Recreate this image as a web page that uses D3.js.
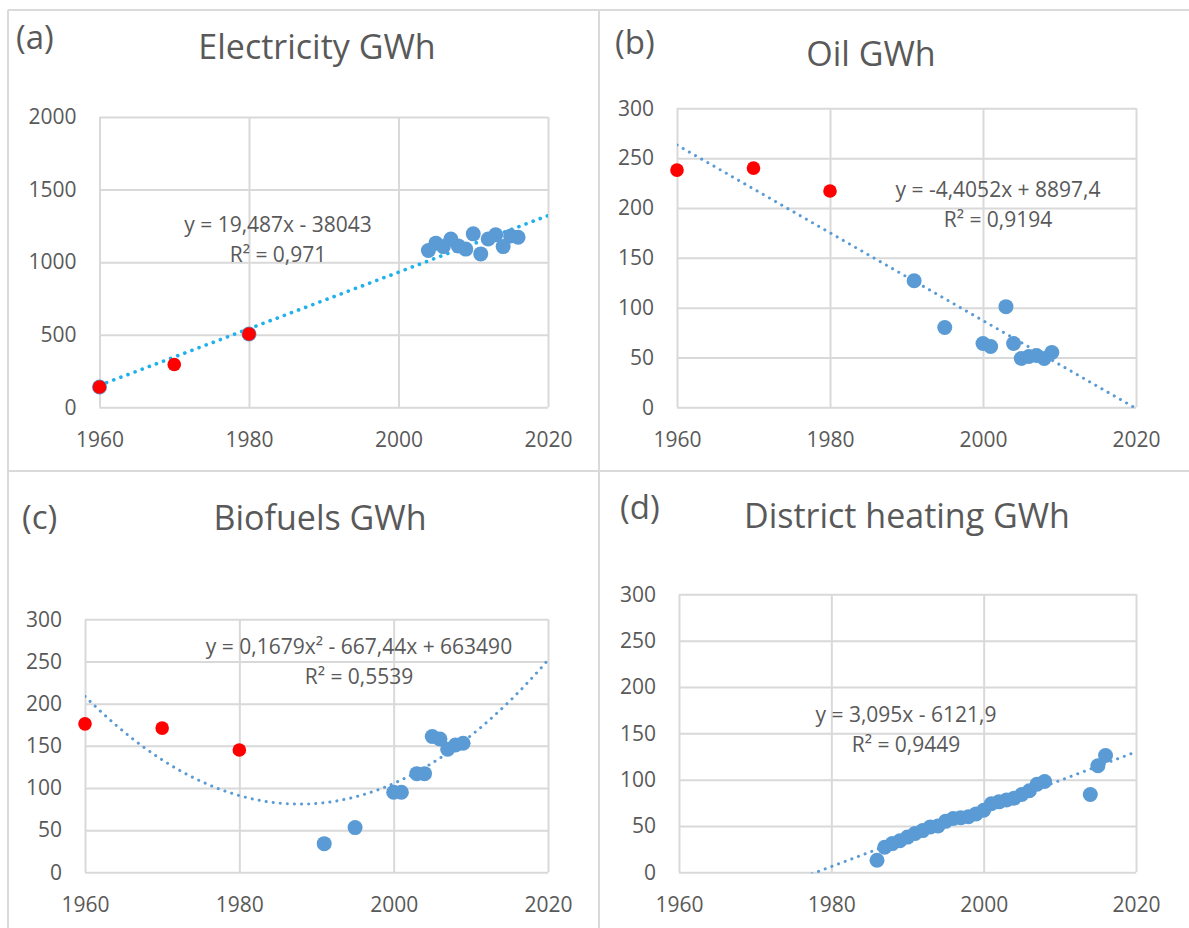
<!DOCTYPE html>
<html>
<head>
<meta charset="utf-8">
<script src="https://cdn.jsdelivr.net/npm/d3@7"></script>
<style>
  body { margin: 0; background: #fff; }
  svg { display: block; font-family: "Open Sans", sans-serif; }
</style>
</head>
<body>
<div id="chart"></div>
<script>
/** Shared axis data */
const xTicks = [1960, 1980, 2000, 2020];
const elecTicks = [0, 500, 1000, 1500, 2000];
const gwhTicks = [0, 50, 100, 150, 200, 250, 300];

/** (a) Electricity */
const elecRedYears = [1960, 1970, 1980];
const elecRedValues = [140, 295, 505];
const elecYears = [1960, 1980, 2004, 2005, 2006, 2007, 2008, 2009, 2010, 2011, 2012, 2013, 2014, 2015, 2016];
const elecValues = [140, 505, 1080, 1131, 1107, 1159, 1112, 1090, 1195, 1057, 1159, 1188, 1107, 1181, 1172];
const elecTrend = [19.487, -38043]; // slope, intercept as printed
const elecEquation = ["y = 19,487x - 38043", "R² = 0,971"];

/** (b) Oil */
const oilRedYears = [1960, 1970, 1980];
const oilRedValues = [238, 240, 217];
const oilYears = [1991, 1995, 2000, 2001, 2003, 2004, 2005, 2006, 2007, 2008, 2009];
const oilValues = [127, 80, 64, 61, 101, 64, 49, 51, 52, 49, 55];
const oilTrend = [-4.4052, 8897.4];
const oilEquation = ["y = -4,4052x + 8897,4", "R² = 0,9194"];

/** (c) Biofuels - printed coefficients are too rounded, so the curve is refitted */
const bioRedYears = [1960, 1970, 1980];
const bioRedValues = [176, 171, 145];
const bioYears = [1991, 1995, 2000, 2001, 2003, 2004, 2005, 2006, 2007, 2008, 2009];
const bioValues = [34, 53, 95, 95, 117, 117, 161, 158, 146, 151, 153];
const bioTrend = null;
const bioEquation = ["y = 0,1679x² - 667,44x + 663490", "R² = 0,5539"];

/** (d) District heating */
const heatRedYears = [];
const heatRedValues = [];
const heatYears = [1986, 1987, 1988, 1989, 1990, 1991, 1992, 1993, 1994, 1995, 1996, 1997, 1998, 1999,
  2000, 2001, 2002, 2003, 2004, 2005, 2006, 2007, 2008, 2014, 2015, 2016];
const heatValues = [13, 27, 31, 34, 38, 42, 45, 49, 50, 55, 58, 59, 60, 63,
  67, 74, 76, 78, 80, 84, 88, 95, 98, 84, 115, 126];
const heatTrend = [3.095, -6121.9];
const heatEquation = ["y = 3,095x - 6121,9", "R² = 0,9449"];

/** Panel layout */
const panels = [
  { id: "a", label: "(a)", title: "Electricity GWh", redYears: elecRedYears, redValues: elecRedValues,
    years: elecYears, values: elecValues, yTicks: elecTicks, degree: 1, trend: elecTrend, equation: elecEquation,
    box: { left: 99.5, top: 117, right: 548, bottom: 407.3 },
    labelPos: [16, 49], titlePos: [317, 59], eqPos: [278, 225, 255],
    trendColor: "#1eb1ec", trendWidth: 3.6, trendGap: 7.5 },
  { id: "b", label: "(b)", title: "Oil GWh", redYears: oilRedYears, redValues: oilRedValues,
    years: oilYears, values: oilValues, yTicks: gwhTicks, degree: 1, trend: oilTrend, equation: oilEquation,
    box: { left: 677, top: 108.3, right: 1136, bottom: 407.3 },
    labelPos: [615, 54], titlePos: [871, 66], eqPos: [998, 190, 220],
    trendColor: "#5b9bd5", trendWidth: 3, trendGap: 7 },
  { id: "c", label: "(c)", title: "Biofuels GWh", redYears: bioRedYears, redValues: bioRedValues,
    years: bioYears, values: bioValues, yTicks: gwhTicks, degree: 2, trend: bioTrend, equation: bioEquation,
    box: { left: 85, top: 619.3, right: 548, bottom: 872.3 },
    labelPos: [22, 529], titlePos: [320, 530], eqPos: [359, 646.7, 676.7],
    trendColor: "#5b9bd5", trendWidth: 3, trendGap: 7 },
  { id: "d", label: "(d)", title: "District heating GWh", redYears: heatRedYears, redValues: heatRedValues,
    years: heatYears, values: heatValues, yTicks: gwhTicks, degree: 1, trend: heatTrend, equation: heatEquation,
    box: { left: 679, top: 594.3, right: 1136, bottom: 872.3 },
    labelPos: [620, 519], titlePos: [907, 528], eqPos: [906, 714.3, 745],
    trendColor: "#5b9bd5", trendWidth: 3, trendGap: 7 },
];

const width = 1189;
const height = 928;
const textColor = "#595959";
const gridColor = "#d9d9d9";

/** Least squares polynomial fit (x centred on 2000) */
const polyFit = (xs, ys, degree) => {
  const n = degree + 1;
  const A = d3.range(n).map(() => Array(n + 1).fill(0));
  xs.forEach((x0, k) => {
    const x = (x0 - 2000) / 10;
    for (let i = 0; i < n; i++) {
      for (let j = 0; j < n; j++) A[i][j] += Math.pow(x, i + j);
      A[i][n] += Math.pow(x, i) * ys[k];
    }
  });
  for (let i = 0; i < n; i++) {
    let p = i;
    for (let r = i + 1; r < n; r++) if (Math.abs(A[r][i]) > Math.abs(A[p][i])) p = r;
    [A[i], A[p]] = [A[p], A[i]];
    for (let r = 0; r < n; r++) {
      if (r === i) continue;
      const f = A[r][i] / A[i][i];
      for (let c = i; c <= n; c++) A[r][c] -= f * A[i][c];
    }
  }
  const coef = A.map((row, i) => row[n] / row[i]);
  return (x0) => {
    const x = (x0 - 2000) / 10;
    return coef.reduce((s, c, i) => s + c * Math.pow(x, i), 0);
  };
};

const svg = d3.select("#chart").append("svg")
  .attr("width", width)
  .attr("height", height);

/** Panel frame lines */
const frame = [
  [8, 10, width, 10],
  [8, 10, 8, height],
  [599, 10, 599, height],
  [8, 471, width, 471],
];
svg.selectAll("line.frame").data(frame).enter().append("line")
  .attr("class", "frame")
  .attr("x1", (d) => d[0]).attr("y1", (d) => d[1])
  .attr("x2", (d) => d[2]).attr("y2", (d) => d[3])
  .attr("stroke", "#dadada")
  .attr("stroke-width", 2);

panels.forEach((p) => {
  const g = svg.append("g");
  const b = p.box;
  const x = d3.scaleLinear().domain([1960, 2020]).range([b.left, b.right]);
  const y = d3.scaleLinear().domain([0, d3.max(p.yTicks)]).range([b.bottom, b.top]);

  /** Axes with gridlines */
  const yAxis = g.append("g")
    .attr("transform", `translate(${b.left},0)`)
    .call(d3.axisLeft(y).tickValues(p.yTicks).tickSize(-(b.right - b.left)).tickPadding(23).tickFormat(d3.format("d")));
  const xAxis = g.append("g")
    .attr("transform", `translate(0,${b.bottom})`)
    .call(d3.axisBottom(x).tickValues(xTicks).tickSize(-(b.bottom - b.top)).tickPadding(25).tickFormat(d3.format("d")));
  [yAxis, xAxis].forEach((ax) => {
    ax.select(".domain").remove();
    ax.selectAll("line").attr("stroke", gridColor).attr("stroke-width", 2);
    ax.selectAll("text").attr("fill", textColor).style("font-size", "21px").style("font-family", "Open Sans");
  });

  /** Trendline: printed equation if usable, otherwise refit on all points */
  let fit;
  if (p.trend) {
    fit = (yr) => p.trend[0] * yr + p.trend[1];
  } else {
    const allYears = [...p.redYears];
    const allValues = [...p.redValues];
    p.years.forEach((yr, i) => {
      if (!allYears.includes(yr)) { allYears.push(yr); allValues.push(p.values[i]); }
    });
    fit = polyFit(allYears, allValues, p.degree);
  }
  svg.append("clipPath").attr("id", "clip-" + p.id)
    .append("rect")
    .attr("x", b.left).attr("y", b.top)
    .attr("width", b.right - b.left).attr("height", b.bottom - b.top + 1);
  const line = d3.line().x((d) => x(d)).y((d) => y(fit(d)));
  g.append("path")
    .attr("clip-path", `url(#clip-${p.id})`)
    .attr("d", line(d3.range(1960, 2020.01, 0.25)))
    .attr("fill", "none")
    .attr("stroke", p.trendColor)
    .attr("stroke-width", p.trendWidth)
    .attr("stroke-linecap", "round")
    .attr("stroke-dasharray", `0.1 ${p.trendGap}`);

  /** Blue markers then red markers */
  g.selectAll("circle.blue").data(p.years).enter().append("circle")
    .attr("class", "blue")
    .attr("cx", (d) => x(d))
    .attr("cy", (d, i) => y(p.values[i]))
    .attr("r", 7.5)
    .attr("fill", "#5b9bd5");
  g.selectAll("circle.red").data(p.redYears).enter().append("circle")
    .attr("class", "red")
    .attr("cx", (d) => x(d))
    .attr("cy", (d, i) => y(p.redValues[i]))
    .attr("r", 6.8)
    .attr("fill", "#ff0000");

  /** Equation label */
  p.equation.forEach((t, i) => {
    g.append("text")
      .attr("x", p.eqPos[0])
      .attr("y", p.eqPos[i + 1])
      .attr("dy", "0.35em")
      .attr("text-anchor", "middle")
      .attr("fill", textColor)
      .style("font-size", "21px")
      .text(t);
  });

  /** Title and panel label */
  g.append("text")
    .attr("x", p.titlePos[0]).attr("y", p.titlePos[1])
    .attr("text-anchor", "middle")
    .attr("fill", textColor)
    .style("font-size", "34px")
    .text(p.title);
  g.append("text")
    .attr("x", p.labelPos[0]).attr("y", p.labelPos[1])
    .attr("fill", textColor)
    .style("font-size", "33px")
    .text(p.label);
});
</script>
</body>
</html>
